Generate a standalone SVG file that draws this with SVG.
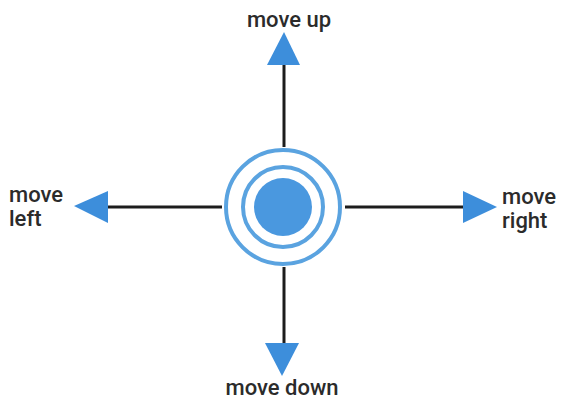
<svg xmlns="http://www.w3.org/2000/svg" width="561" height="401" viewBox="0 0 561 401">
<style>
.lbl{font-family:Roboto,"Liberation Sans",Arial,sans-serif;font-weight:500;font-size:22px;fill:#2b2b2b}
.ln{stroke:#1c1c1c;stroke-width:3;fill:none}
.tri{fill:#3d8edb}
.ring{fill:none;stroke:#5aa3e0;stroke-width:4}
</style>
<rect width="561" height="401" fill="#ffffff"/>
<g id="connectors">
<line class="ln" x1="284" y1="64" x2="284" y2="147"/>
<line class="ln" x1="284" y1="267" x2="284" y2="344"/>
<line class="ln" x1="106" y1="207" x2="222" y2="207"/>
<line class="ln" x1="345" y1="207" x2="464" y2="207"/>
</g>
<g id="center">
<circle cx="283" cy="207" r="29" fill="#4a98df"/>
<circle class="ring" cx="283" cy="207" r="40"/>
<circle class="ring" cx="283" cy="207" r="57"/>
</g>
<g id="up">
<polygon class="tri" points="284,32 267,65 300,65"/>
<text class="lbl" x="289" y="27" text-anchor="middle">move up</text>
</g>
<g id="down">
<polygon class="tri" points="265,343 299,343 282,376"/>
<text class="lbl" x="282" y="395" text-anchor="middle">move down</text>
</g>
<g id="left">
<polygon class="tri" points="74,206 108,191 108,223"/>
<text class="lbl" x="9" y="202">move</text>
<text class="lbl" x="9" y="226">left</text>
</g>
<g id="right">
<polygon class="tri" points="463,191 463,223 497,207"/>
<text class="lbl" x="502" y="204">move</text>
<text class="lbl" x="502" y="228">right</text>
</g>
</svg>
